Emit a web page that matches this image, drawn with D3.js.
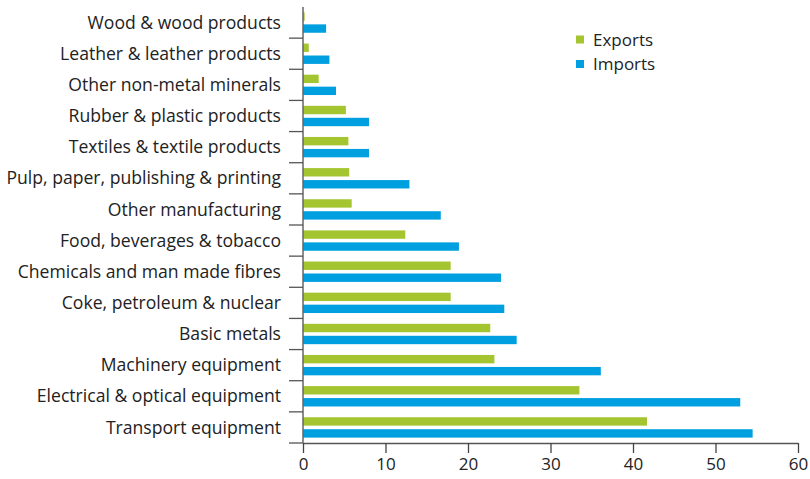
<!DOCTYPE html>
<html><head><meta charset="utf-8">
<script src="https://cdn.jsdelivr.net/npm/d3@7"></script>
<style>body{margin:0;background:#fff}svg{display:block}text{font-family:"Open Sans",sans-serif}</style>
</head><body><svg id="c" width="810" height="479"></svg>
<script>
const categories = ["Wood & wood products","Leather & leather products","Other non-metal minerals","Rubber & plastic products","Textiles & textile products","Pulp, paper, publishing & printing","Other manufacturing","Food, beverages & tobacco","Chemicals and man made fibres","Coke, petroleum & nuclear","Basic metals","Machinery equipment","Electrical & optical equipment","Transport equipment"];
const exportsVals = [0.2,0.7,1.9,5.2,5.5,5.6,5.9,12.4,17.9,17.9,22.7,23.2,33.5,41.7];
const importsVals = [2.8,3.2,4.0,8.0,8.0,12.9,16.7,18.9,24.0,24.4,25.9,36.1,53.0,54.5];
const xTicks = [0,10,20,30,40,50,60];
const seriesNames = ["Exports","Imports"];
const colors = ["#a4c52f","#009fdf"];

const svg = d3.select("#c");
const x = d3.scaleLinear().domain([0,60]).range([303,798]);
const y = d3.scaleBand().domain(categories).range([7,443]);
const sub = d3.scaleBand().domain(seriesNames).range([0,y.bandwidth()]).paddingInner(0.3).paddingOuter(0.45);

const data = categories.map((c,i)=>({c, vals:[exportsVals[i],importsVals[i]]}));
const g = svg.append("g");
data.forEach(d=>{
  d.vals.forEach((v,j)=>{
    g.append("rect").attr("x",x(0)).attr("y",y(d.c)+sub(seriesNames[j]))
     .attr("width",x(v)-x(0)).attr("height",sub.bandwidth()).attr("fill",colors[j]);
  });
});

// x axis
const xa = svg.append("g").attr("transform","translate(0,443)")
  .call(d3.axisBottom(x).tickValues(xTicks).tickSize(10).tickSizeOuter(0).tickPadding(5));
xa.select(".domain").attr("stroke","#555").attr("stroke-width",1.5);
xa.selectAll(".tick line").attr("stroke","#444").attr("stroke-width",1.3);
xa.selectAll("text").attr("font-size",17).attr("fill","#222");

// y axis line
svg.append("line").attr("x1",303).attr("x2",303).attr("y1",7).attr("y2",443).attr("stroke","#666").attr("stroke-width",1.5);
// band boundary ticks
for(let i=1;i<=categories.length;i++){
  const yy = i<categories.length ? y(categories[i]) : y.range()[1];
  svg.append("line").attr("x1",289).attr("x2",303).attr("y1",yy).attr("y2",yy).attr("stroke","#555").attr("stroke-width",1.3);
}
// labels
svg.append("g").selectAll("text").data(categories).join("text")
  .attr("x",281).attr("y",d=>y(d)+y.bandwidth()/2).attr("dy","0.35em")
  .attr("text-anchor","end").attr("font-size",17.6).attr("fill","#222").text(d=>d);

// legend
const lg = svg.append("g");
seriesNames.forEach((s,i)=>{
  lg.append("rect").attr("x",576).attr("y",35.5+i*24.5).attr("width",8).attr("height",8).attr("fill",colors[i]);
  lg.append("text").attr("x",593).attr("y",40+i*24.5).attr("dy","0.35em").attr("font-size",17).attr("fill","#222").text(s);
});
</script></body></html>
